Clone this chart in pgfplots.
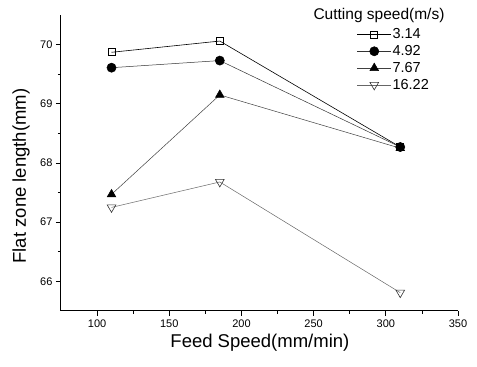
\documentclass[border=0pt]{standalone}
\usepackage{fontspec}
\setmainfont{Liberation Sans}
\usepackage{pgfplots}
\usetikzlibrary{calc}
\pgfplotsset{compat=1.18}
\begin{document}
\begin{tikzpicture}
\begin{axis}[
  scale only axis,
  width=397pt, height=296pt,
  xmin=75, xmax=350, ymin=65.5, ymax=70.5,
  axis lines=left,
  axis line style={-, line width=1pt},
  tick align=outside,
  xtick={100,150,...,350},
  ytick={66,67,...,70},
  minor x tick num=1, minor y tick num=1,
  major tick length=5pt, minor tick length=3pt,
  tick style={line width=0.8pt, black},
  /pgf/number format/assume math mode=true,
  ticklabel style={font=\fontsize{11}{12}\selectfont},
  xlabel={Feed Speed(mm/min)},
  ylabel={Flat zone length(mm)},
  label style={font=\fontsize{18.5}{20}\selectfont},
  xlabel style={at={(axis description cs:0.501,-0.108)}, anchor=center},
  ylabel style={at={(axis description cs:-0.1008,0.456)}, anchor=center},
  clip=false,
  legend style={draw=none, fill=none, at={(axis description cs:0.745,0.958)}, anchor=north west,
     font=\fontsize{14.5}{16}\selectfont, inner sep=0pt, row sep=3.2pt,
     nodes={inner sep=1pt}},
  legend cell align=left,
  legend image code/.code={\draw[mark repeat=2,mark phase=2] plot coordinates {(0pt,0pt) (17pt,0pt) (34pt,0pt)};},
]
\addlegendimage{black, line width=0.6pt, mark=square, mark size=3.5pt, mark options={fill=white, line width=0.6pt}}
\addlegendentry{3.14}
\addlegendimage{black!80, line width=0.5pt, mark=*, mark size=4.6pt, mark options={fill=black, draw=black}}
\addlegendentry{4.92}
\addlegendimage{black!75, line width=0.5pt, mark=triangle*, mark size=5pt, mark options={fill=black, draw=black}}
\addlegendentry{7.67}
\addlegendimage{black!60, line width=0.5pt, mark=triangle, mark size=5pt, mark options={rotate=180, fill=white, draw=black!80, line width=0.6pt}}
\addlegendentry{16.22}
\addplot[forget plot, black, line width=0.6pt, mark=square, mark size=3.5pt, mark options={fill=white, line width=0.6pt}]
  coordinates {(110,69.87) (185,70.06) (310,68.27)};
\addplot[forget plot, black!60, line width=0.5pt, mark=triangle, mark size=5pt, mark options={rotate=180, fill=white, draw=black!80, line width=0.6pt}]
  coordinates {(110,67.25) (185,67.68) (310,65.81)};
\addplot[forget plot, black!80, line width=0.5pt, mark=*, mark size=4.6pt, mark options={fill=black, draw=black}]
  coordinates {(110,69.61) (185,69.73) (310,68.27)};
\addplot[forget plot, black!75, line width=0.5pt, mark=triangle*, mark size=5pt, mark options={fill=black, draw=black}]
  coordinates {(110,67.47) (185,69.15) (310,68.25)};
\node[font=\fontsize{15.5}{17}\selectfont, anchor=center] at (axis description cs:0.801,1.0) {Cutting speed(m/s)};
\end{axis}
\pgfresetboundingbox
\path ($(current axis.south west)+(-61pt,-56pt)$) rectangle ($(current axis.north east)+(19pt,15pt)$);
\end{tikzpicture}
\end{document}
